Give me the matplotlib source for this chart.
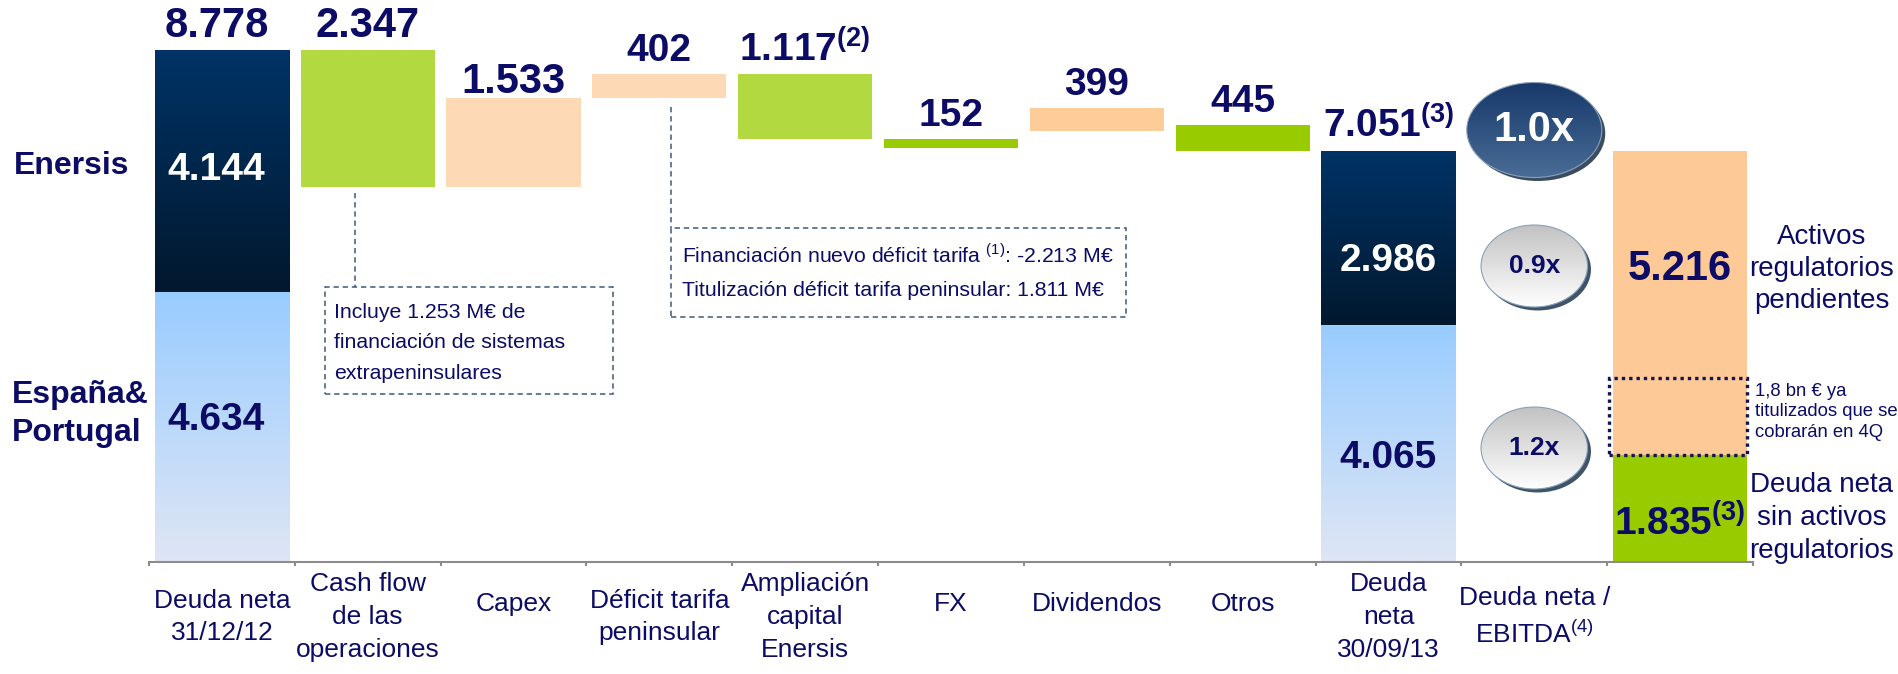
import numpy as np
import matplotlib
matplotlib.use('Agg')
import matplotlib.pyplot as plt
import matplotlib.transforms as mtransforms
from matplotlib.patches import Rectangle, Ellipse
from matplotlib.colors import LinearSegmentedColormap

plt.rcParams['font.family'] = 'Liberation Sans'
plt.rcParams['mathtext.fontset'] = 'custom'
plt.rcParams['mathtext.rm'] = 'Liberation Sans'
plt.rcParams['mathtext.bf'] = 'Liberation Sans:bold'

# ---- datos (M€) ----
categorias = ['Deuda neta\n31/12/12', 'Cash flow\nde las\noperaciones', 'Capex',
              'Déficit tarifa\npeninsular', 'Ampliación\ncapital\nEnersis', 'FX',
              'Dividendos', 'Otros', 'Deuda\nneta\n30/09/13',
              'Deuda neta /\nEBITDA$^{(4)}$', '']

enersis_ini, espana_ini = 4144, 4634
enersis_fin, espana_fin = 2986, 4065

# movimientos: valor, nivel inferior de la barra flotante
mov_valores = [2347, 1533, 402, 1117, 152, 399, 445]
mov_bases = [6431, 6431, 7964, 7249, 7097, 7395, 7051]
mov_etiquetas = ['2.347', '1.533', '402', r'1.117$^{\mathbf{(2)}}$', '152', '399', '445']
mov_colores = ['#b3d941', '#fdd9b5', '#fdd9b5', '#b3d941', '#99cc00', '#fdcc99', '#99cc00']

activos_reg = 5216
deuda_sin_reg = 1835
titulizado_top = 3150   # borde superior del recuadro punteado

ratios = ['1.0x', '0.9x', '1.2x']
ratios_y = [7410, 5077, 1955]

navy = '#0c0c66'
W = 0.92

fig = plt.figure(figsize=(18.99, 6.74), dpi=100)
ax = fig.add_axes([149/1899, 1 - 562/674, 1604/1899, 562/674])
ax.set_xlim(-0.5, 10.5)
ax.set_ylim(0, 9640)


def barra_degradado(x, base, alto, c_arriba, c_abajo):
    r = ax.bar(x, alto, bottom=base, width=W, color='none', edgecolor='none', zorder=2)[0]
    cmap = LinearSegmentedColormap.from_list('g', [c_abajo, c_arriba])
    grad = np.linspace(0, 1, 256).reshape(-1, 1)
    im = ax.imshow(grad, extent=(x - W/2, x + W/2, base, base + alto), origin='lower',
                   cmap=cmap, aspect='auto', zorder=2)
    im.set_clip_path(r)


# deuda neta 31/12/12
barra_degradado(0, 0, espana_ini, '#99ccff', '#dfe6f4')
barra_degradado(0, espana_ini, enersis_ini, '#003366', '#02182e')
# deuda neta 30/09/13
barra_degradado(8, 0, espana_fin, '#99ccff', '#dfe6f4')
barra_degradado(8, espana_fin, enersis_fin, '#003366', '#02182e')

# movimientos
xs = np.arange(1, 8)
ax.bar(xs, mov_valores, bottom=mov_bases, width=W, color=mov_colores, zorder=2)

# deuda sin activos regulatorios
ax.bar(10, deuda_sin_reg, width=W, color='#99cc00', zorder=2)
ax.bar(10, activos_reg, bottom=deuda_sin_reg, width=W, color='#fdc997', zorder=2)
ax.add_patch(Rectangle((10 - 0.49, deuda_sin_reg), 0.95, titulizado_top - deuda_sin_reg,
                       fill=False, edgecolor='#141452', lw=2.4, linestyle=(0, (1, 1.2)), zorder=4))

# etiquetas sobre barras
big = dict(fontweight='bold', color=navy, ha='center', va='baseline',
           textcoords='offset points', annotation_clip=False)
ax.annotate('8.778', (0, enersis_ini + espana_ini), xytext=(-4, 9.4), fontsize=30, **big)
for x, b, v, t in zip(xs, mov_bases, mov_valores, mov_etiquetas):
    sep = 3.5 if t == '1.533' else 9.4
    fs = 30 if x <= 2 else 28
    ax.annotate(t, (x, b + v), xytext=(0, sep), fontsize=fs, **big)
ax.annotate(r'7.051$^{\mathbf{(3)}}$', (8, enersis_fin + espana_fin), xytext=(0, 9.4),
            fontsize=28, **big)

# etiquetas dentro de barras
inner = dict(fontweight='bold', ha='center', va='baseline', textcoords='offset points')
ax.annotate('4.144', (0, espana_ini + enersis_ini * 0.52), xytext=(-4, -9.7), fontsize=28,
            color='white', **inner)
ax.annotate('4.634', (0, espana_ini * 0.54), xytext=(-4, -9.7), fontsize=28, color=navy, **inner)
ax.annotate('2.986', (8, espana_fin + enersis_fin * 0.385), xytext=(0, -9.7), fontsize=28,
            color='white', **inner)
ax.annotate('4.065', (8, espana_fin * 0.455), xytext=(0, -9.7), fontsize=28, color=navy, **inner)
ax.annotate('5.216', (10, deuda_sin_reg + activos_reg * 0.62), xytext=(0, -10), fontsize=30,
            color=navy, **inner)
ax.annotate(r'1.835$^{\mathbf{(3)}}$', (10, deuda_sin_reg * 0.37), xytext=(0, -9.7), fontsize=28,
            color=navy, **inner)

# elipses de deuda neta / EBITDA
estilos = [('#17386a', '#4a6d96', '#3b4c60', 'white', 30, 0.926, 1630),
           ('#c2c2c2', '#ffffff', '#3f5468', navy, 19, 0.73, 1406),
           ('#c2c2c2', '#ffffff', '#3f5468', navy, 19, 0.73, 1406)]
desp = mtransforms.ScaledTranslation(2.5/72, -2.5/72, fig.dpi_scale_trans)
for r, yc, (ca, cb, borde, ct, fs, w, h) in zip(ratios, ratios_y, estilos):
    sombra = Ellipse((9, yc), w, h, facecolor=borde, edgecolor='none', zorder=3,
                     transform=ax.transData + desp)
    ax.add_patch(sombra)
    e = Ellipse((9, yc), w, h, facecolor='none', edgecolor='#8aa0b8', lw=0.8, zorder=5)
    ax.add_patch(e)
    cmap = LinearSegmentedColormap.from_list('e', [cb, ca])
    im = ax.imshow(np.linspace(0, 1, 256).reshape(-1, 1),
                   extent=(9 - w/2, 9 + w/2, yc - h/2, yc + h/2), origin='lower',
                   cmap=cmap, aspect='auto', zorder=4)
    im.set_clip_path(e)
    ax.text(9, yc, r, ha='center', va='center', fontsize=fs, fontweight='bold', color=ct, zorder=6)

ax.set_xlim(-0.5, 10.5)
ax.set_ylim(0, 9640)

# recuadros de notas
caja = dict(fill=False, edgecolor='#3d5a7a', lw=1.1, linestyle=(0, (3.5, 2.5)), zorder=3)
ax.add_patch(Rectangle((0.707, 2882), 2.682 - 0.707, 4717 - 2882, **caja))
ax.plot([0.913, 0.913], [6329, 4717], color='#3d5a7a', lw=1.1, linestyle=(0, (3.5, 2.5)))
ax.add_patch(Rectangle((3.08, 4202), 6.20 - 3.08, 5729 - 4202, **caja))
ax.plot([3.08, 3.08], [7804, 5729], color='#3d5a7a', lw=1.1, linestyle=(0, (3.5, 2.5)))

fig.text(334/1899, 1 - 343/674, 'Incluye 1.253 M€ de\nfinanciación de sistemas\nextrapeninsulares',
         ha='left', va='center', fontsize=15.3, color=navy, linespacing=1.75)
fig.text(682/1899, 1 - 255/674, 'Financiación nuevo déficit tarifa $^{(1)}$: -2.213 M€',
         ha='left', va='center', fontsize=15.3, color=navy)
fig.text(682/1899, 1 - 291/674, 'Titulización déficit tarifa peninsular: 1.811 M€',
         ha='left', va='center', fontsize=15.3, color=navy)

# eje
for s in ['top', 'left', 'right']:
    ax.spines[s].set_visible(False)
ax.spines['bottom'].set_color('#8c8c8c')
ax.spines['bottom'].set_linewidth(1.5)
ax.set_yticks([])
ax.set_xticks(np.arange(-0.5, 11, 1))
ax.set_xticklabels([])
ax.tick_params(axis='x', length=3, width=1.5, color='#8c8c8c')

for i, c in enumerate(categorias):
    n = c.count('\n') + 1
    ypix = 604 if n == 1 else 617
    ax.text(i, (562 - ypix) / 562, c, transform=ax.get_xaxis_transform(), ha='center',
            va='center', fontsize=19, color=navy, linespacing=1.45)

# textos laterales
fig.text(14/1899, 1 - 166/674, 'Enersis', ha='left', va='center', fontsize=23,
         fontweight='bold', color=navy)
fig.text(12/1899, 1 - 414/674, 'España&\nPortugal', ha='left', va='center', fontsize=23,
         fontweight='bold', color=navy, linespacing=1.35)
fig.text(1822/1899, 1 - 269/674, 'Activos\nregulatorios\npendientes', ha='center',
         va='center', fontsize=20, color=navy, linespacing=1.3)
fig.text(1822/1899, 1 - 518/674, 'Deuda neta\nsin activos\nregulatorios', ha='center',
         va='center', fontsize=20, color=navy, linespacing=1.35)
fig.text(1755/1899, 1 - 412/674, '1,8 bn € ya\ntitulizados que se\ncobrarán en 4Q',
         ha='left', va='center', fontsize=13.3, color=navy, linespacing=1.25)

fig.savefig('out.png', dpi=100)
